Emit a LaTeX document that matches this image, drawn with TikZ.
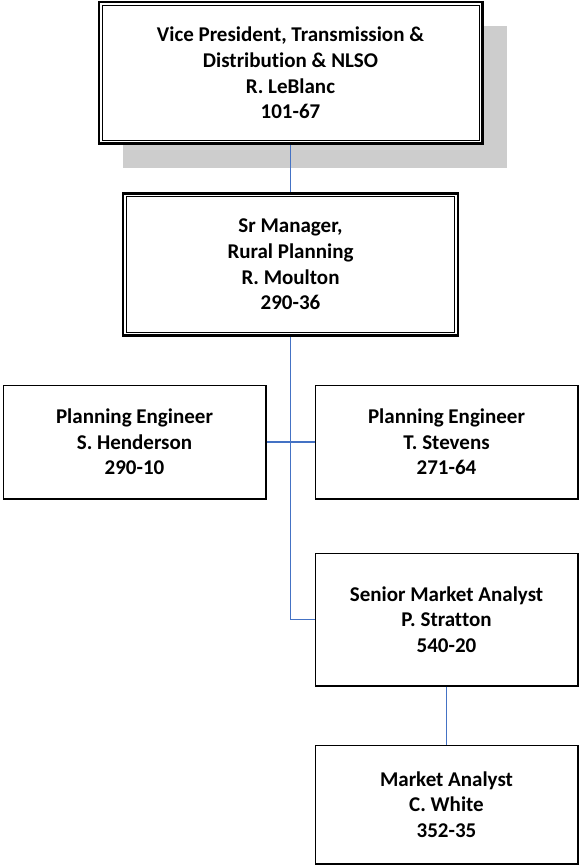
\documentclass[tikz,border=0pt]{standalone}
\usepackage{fontspec}
\setmainfont{Carlito}[Ligatures=NoCommon]
\usepackage{tikz}
\usetikzlibrary{positioning, calc, shadows}
\definecolor{linkblue}{HTML}{4472C4}
\definecolor{shadowgray}{HTML}{CDCDCD}

\begin{document}
\begin{tikzpicture}[
  x=1pt, y=1pt,
  every node/.style={font=\fontsize{21}{25.6}\selectfont\bfseries},
  head/.style={rectangle, draw=black, line width=2.5pt, fill=white,
               minimum height=141.5pt, align=center, inner sep=0pt},
  post/.style={rectangle, draw=black, line width=1.4pt, fill=white,
               minimum width=262.6pt, align=center, inner sep=0pt},
  link/.style={draw=linkblue, line width=1.8pt}
]
\useasboundingbox (0,0) rectangle (581,-866);
\node[head, minimum width=383.5pt,
      drop shadow={shadow xshift=24.5pt, shadow yshift=-24pt,
                   fill=shadowgray, opacity=1}]
  (vp) at (290.5,-73) {Vice President, Transmission \&\\Distribution \& NLSO\\R. LeBlanc\\101-67};
\node[head, minimum width=335pt, below=47.5pt of vp] (mgr) {Sr Manager,\\Rural Planning\\R. Moulton\\290-36};
\node[post, minimum height=113.6pt, below left=48pt and 24pt of mgr.south] (eng1) {Planning Engineer\\S. Henderson\\290-10};
\node[post, minimum height=113.6pt, below right=48pt and 24pt of mgr.south] (eng2) {Planning Engineer\\T. Stevens\\271-64};
\node[post, minimum height=132.6pt, below=53pt of eng2] (sma) {Senior Market Analyst\\P. Stratton\\540-20};
\node[post, minimum height=118.6pt, below=58pt of sma] (ma) {Market Analyst\\C. White\\352-35};

% inner line of the double frames
\foreach \n in {vp, mgr}
  \draw[line width=1pt] ($(\n.south west)+(4.5,4.5)$) rectangle ($(\n.north east)-(4.5,4.5)$);

\foreach \a/\b in {vp/mgr, eng1/eng2, sma/ma}
  \draw[link] (\a) -- (\b);
\draw[link] (mgr) |- (sma);
\end{tikzpicture}
\end{document}
